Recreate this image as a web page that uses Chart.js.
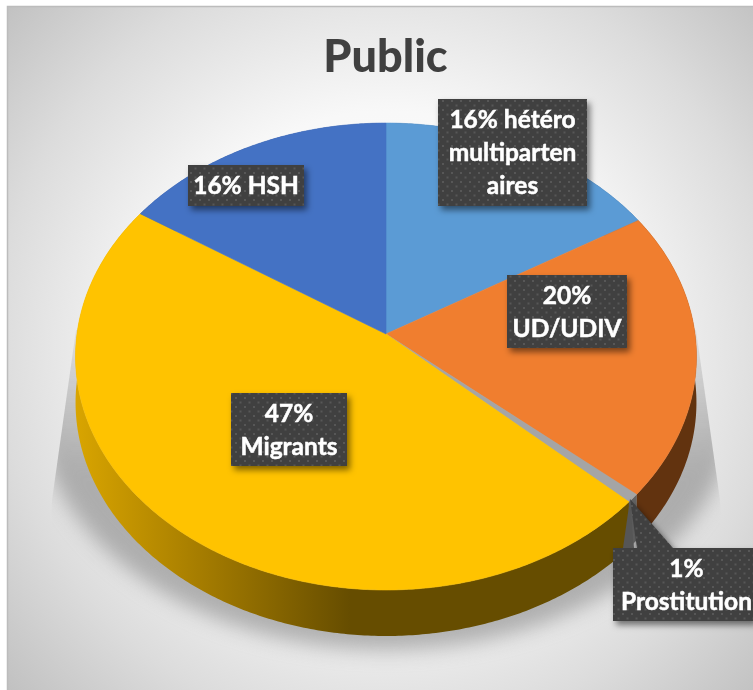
<!DOCTYPE html>
<html><head><meta charset="utf-8">
<style>html,body{margin:0;padding:0;background:#fff}canvas{display:block}</style>
<script src="https://cdn.jsdelivr.net/npm/chart.js@4/dist/chart.umd.min.js"></script>
</head><body><canvas id="c" width="753" height="690"></canvas>
<script>
const categories = ["hétéro multipartenaires", "UD/UDIV", "Prostitution", "Migrants", "HSH"];
const values = [16.4, 19.9, 0.6, 47.4, 15.8];
const titleText = "Public";
const labelLines = [["16% hétéro","multiparten","aires"],["20%","UD/UDIV"],["1%","Prostitution"],["47%","Migrants"],["16% HSH"]];
const faceColors = ["#5B9BD5","#F07E2F","#A5A5A5","#FFC300","#4472C4"];
const sideColors = ["#365d80","#62330f","#636363",null,"#29447a"];

// perspective of the tilted disc
const view = {cx:386, cy:334, a:309, b:231.3, p:-0.0964, depth:46};
function project(angle){
  const u=Math.cos(angle), v=Math.sin(angle), w=1+view.p*v;
  return [view.cx+view.a*u/w, view.cy+view.b*v/w];
}
function rim(ctx,a0,a1,dy,rev){
  const n=Math.max(2,Math.ceil(Math.abs(a1-a0)/0.01));
  for(let i=0;i<=n;i++){
    const t=rev?1-i/n:i/n, q=project(a0+(a1-a0)*t);
    ctx.lineTo(q[0],q[1]+dy);
  }
}
const boxes = [
  {x:438,y:99,w:149,h:107},
  {x:507,y:275,w:120,h:73},
  {x:613,y:548,w:141,h:73,pointer:true},
  {x:231,y:393,w:116,h:73},
  {x:188,y:165,w:116,h:41}
];
function dotPattern(ctx){
  const o=document.createElement('canvas');o.width=9;o.height=9;
  const g=o.getContext('2d');
  g.fillStyle='#404040';g.fillRect(0,0,9,9);
  g.fillStyle='#575757';g.fillRect(1,1,2,2);g.fillRect(5.5,5.5,2,2);
  return ctx.createPattern(o,'repeat');
}
const painter = {
  id:'painter',
  beforeDraw(chart){
    const ctx=chart.ctx;
    ctx.save();
    ctx.fillStyle='#fff';ctx.fillRect(0,0,753,690);
    const g=ctx.createRadialGradient(386,345,0,386,345,520);
    g.addColorStop(0,'#ffffff');g.addColorStop(.45,'#f8f8f8');g.addColorStop(.75,'#dcdcdc');g.addColorStop(1,'#bfbfbf');
    ctx.fillStyle=g;ctx.fillRect(7,6,746,684);
    ctx.strokeStyle='#bcbcbc';ctx.lineWidth=1.5;
    ctx.beginPath();ctx.moveTo(7.5,690);ctx.lineTo(7.5,6.5);ctx.lineTo(753,6.5);ctx.stroke();
    ctx.restore();
  },
  beforeDatasetDraw(chart,args){
    const ctx=chart.ctx, arcs=args.meta.data;
    ctx.save();
    // ground shadow
    ctx.save();
    ctx.beginPath();
    ctx.moveTo(76,330);ctx.lineTo(696,330);ctx.lineTo(720,500);ctx.lineTo(725,690);ctx.lineTo(47,690);ctx.lineTo(52,500);ctx.closePath();
    ctx.clip();
    ctx.filter='blur(10px)';
    const sg=ctx.createLinearGradient(0,330,0,470);
    sg.addColorStop(0,'rgba(135,135,135,.12)');sg.addColorStop(1,'rgba(135,135,135,.6)');
    ctx.fillStyle=sg;
    ctx.beginPath();ctx.ellipse(386,400,350,250,0,0,Math.PI*2);ctx.fill();
    ctx.restore();
    // side wall
    arcs.forEach((el,i)=>{
      let fill=sideColors[i];
      if(!fill){
        const g=ctx.createLinearGradient(75,0,350,0);
        g.addColorStop(0,'#d9a500');g.addColorStop(.45,'#a67d00');g.addColorStop(1,'#664d00');
        fill=g;
      }
      ctx.fillStyle=fill;
      ctx.beginPath();
      rim(ctx,el.startAngle,el.endAngle,0,false);
      rim(ctx,el.startAngle,el.endAngle,view.depth,true);
      ctx.closePath();ctx.fill();
    });
    // top face
    arcs.forEach((el,i)=>{
      ctx.fillStyle=faceColors[i];
      ctx.strokeStyle=faceColors[i];ctx.lineWidth=.6;
      ctx.beginPath();ctx.moveTo(view.cx,view.cy);
      rim(ctx,el.startAngle,el.endAngle,0,false);
      ctx.closePath();ctx.fill();ctx.stroke();
    });
    ctx.restore();
    return false;
  },
  afterDraw(chart){
    const ctx=chart.ctx, pat=dotPattern(ctx);
    boxes.forEach((b,i)=>{
      ctx.save();
      ctx.shadowColor='rgba(0,0,0,.5)';ctx.shadowBlur=6;ctx.shadowOffsetX=3;ctx.shadowOffsetY=4;
      ctx.fillStyle=pat;
      ctx.beginPath();
      if(b.pointer){
        ctx.moveTo(630,499);ctx.lineTo(673,b.y);ctx.lineTo(b.x+b.w,b.y);ctx.lineTo(b.x+b.w,b.y+b.h);
        ctx.lineTo(b.x,b.y+b.h);ctx.lineTo(b.x,b.y);ctx.lineTo(637,b.y);ctx.closePath();
      }else ctx.rect(b.x,b.y,b.w,b.h);
      ctx.fill();
      ctx.restore();
      if(b.pointer){
        ctx.fillStyle='#565656';
        ctx.beginPath();ctx.moveTo(630,499);ctx.lineTo(634,b.y);ctx.lineTo(623,b.y);ctx.closePath();ctx.fill();
      }
      const lines=labelLines[i];
      ctx.save();
      ctx.font='bold 24.5px Lato';ctx.fillStyle='#fff';ctx.strokeStyle='#fff';ctx.lineWidth=.5;ctx.textAlign='center';ctx.textBaseline='middle';
      const pitch=33, mid=b.y+b.h/2, x=b.x+b.w/2+(b.pointer?3:0);
      lines.forEach((t,k)=>{
        const y=mid+(k-(lines.length-1)/2)*pitch+1;
        ctx.fillText(t,x,y);ctx.strokeText(t,x,y);
      });
      ctx.restore();
    });
  }
};
new Chart(document.getElementById('c'),{
  type:'pie',
  data:{labels:categories,datasets:[{data:values,backgroundColor:faceColors,borderWidth:0}]},
  plugins:[painter],
  options:{
    responsive:false,animation:false,devicePixelRatio:1,
    layout:{padding:{left:18,right:0,top:0,bottom:0}},
    plugins:{
      legend:{display:false},tooltip:{enabled:false},
      title:{display:true,text:titleText,color:'#404040',font:{family:'Lato',size:45,weight:'900'},padding:{top:30,bottom:10}}
    }
  }
});
</script></body></html>
